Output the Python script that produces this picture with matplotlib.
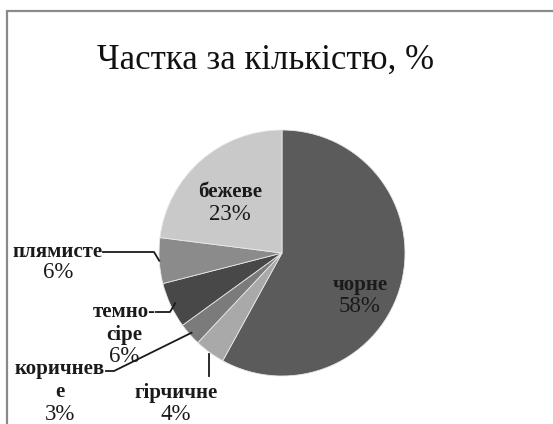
import matplotlib
matplotlib.use("Agg")
import matplotlib.pyplot as plt
import numpy as np
from matplotlib.patches import Rectangle

title = "Частка за кількістю, %"
categories = ["чорне", "гірчичне", "коричневе", "темно-сіре", "плямисте", "бежеве"]
label_names = [["чорне"], ["гірчичне"], ["коричнев", "е"], ["темно-", "сіре"], ["плямисте"], ["бежеве"]]
values = [58, 4, 3, 6, 6, 23]
colors = ["#5b5b5b", "#a9a9a9", "#7b7b7b", "#484848", "#8b8b8b", "#c9c9c9"]

W, H = 553, 424
fig = plt.figure(figsize=(W / 100, H / 100), dpi=100)
fig.patch.set_facecolor("white")

# frame
fig.patches.append(Rectangle((7 / W, -0.1), 1.2, (H - 11) / H + 0.1,
                             transform=fig.transFigure, fill=False,
                             edgecolor="#8a8a8a", linewidth=1.6))

cx, cy, r = 282, 253, 123
ax = fig.add_axes([(cx - r) / W, (H - cy - r) / H, 2 * r / W, 2 * r / H])

wedges, _ = ax.pie(values, colors=colors, startangle=90, counterclock=False,
                   radius=1, wedgeprops=dict(edgecolor="#e8e8e8", linewidth=0.6))
ax.set_aspect("equal")
ax.set_xlim(-1, 1)
ax.set_ylim(-1, 1)
ax.set_axis_off()

serif = ["Liberation Serif", "DejaVu Serif"]

def px(x, y):
    return ((x - cx) / r, (cy - y) / r)

# mid angles
cum = np.cumsum([0] + values[:-1])
mids = [np.deg2rad(90 - 3.6 * (c + v / 2)) for c, v in zip(cum, values)]

def edge(i, f=1.0):
    return (f * np.cos(mids[i]), f * np.sin(mids[i]))

def lab(i, x, y, step=23, fs=15, fs2=16.5):
    lines = label_names[i]
    for k, line in enumerate(lines):
        ax.text(*px(x, y + k * step), line, ha="center", va="center", fontsize=fs,
                family=serif, fontweight="bold", color="#1a1a1a", clip_on=False)
    ax.text(*px(x, y + len(lines) * step - 1), f"{values[i]}%", ha="center", va="center",
            fontsize=fs2, family=serif, color="#1a1a1a", clip_on=False)

# inside labels
lab(0, 360, 285)
lab(5, 230, 192)

# outside labels
lab(4, 58, 252, step=21)
lab(3, 124, 312)
lab(2, 60, 369)
lab(1, 176, 393, step=22)

lk = dict(color="#1a1a1a", linewidth=1.3, clip_on=False)
# плямисте leader
e = edge(4, 1.0)
ax.plot([px(103, 252)[0], px(154, 252)[0], e[0]], [px(103, 252)[1], px(154, 252)[1], e[1]], **lk)
# темно-сіре leader
e = edge(3, 0.96)
ax.plot([px(156, 312)[0], px(170, 312)[0], e[0]], [px(156, 312)[1], px(170, 312)[1], e[1]], **lk)
# коричневе leader
e = edge(2, 0.98)
ax.plot([px(106, 371)[0], px(114, 371)[0], e[0]], [px(106, 371)[1], px(114, 371)[1], e[1]], **lk)
# гірчичне leader
e = edge(1, 1.01)
ax.plot([e[0], e[0]], [e[1], px(0, 376)[1]], **lk)

fig.text(266 / W, 1 - 60 / H, title, ha="center", va="center", fontsize=25,
         family=serif, color="#111111")

fig.savefig("out.png", dpi=100, facecolor="white")
